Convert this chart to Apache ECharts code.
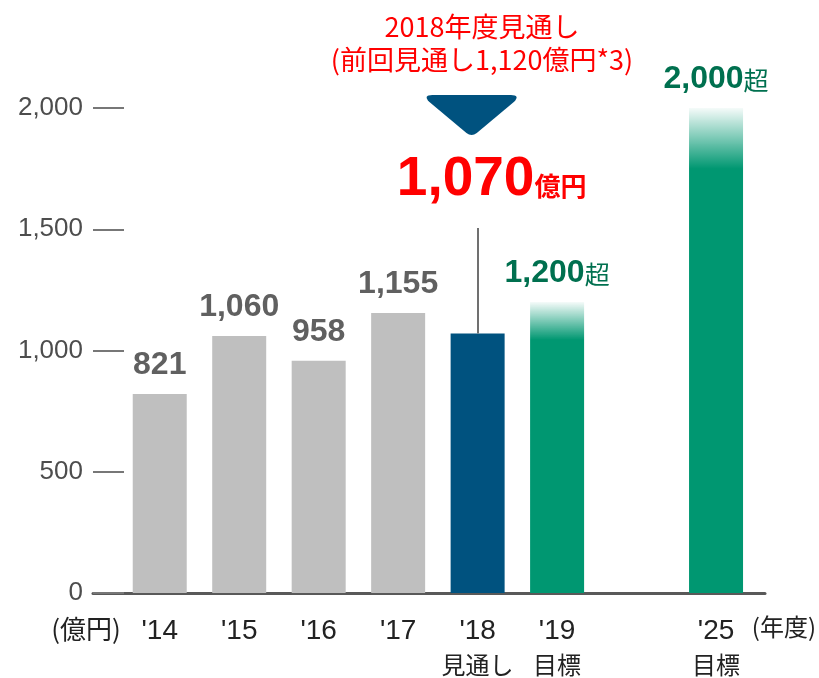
<!DOCTYPE html>
<html>
<head>
<meta charset="utf-8">
<script src="https://cdn.jsdelivr.net/npm/echarts@6/dist/echarts.min.js"></script>
<style>
  html, body { margin: 0; padding: 0; background: #fff; }
  #chart { width: 819px; height: 678px; }
</style>
</head>
<body>
<div id="chart"></div>
<script>
// data
const categories = ["'14", "'15", "'16", "'17", "'18", "'19", "", "'25"];
const subLabels = ["", "", "", "", "見通し", "目標", "", "目標"];
const values = [821, 1060, 958, 1155, 1070, 1200, null, 2000];
const valueTexts = ["821", "1,060", "958", "1,155", "", "1,200", "", "2,000"];
const valueSuffix = ["", "", "", "", "", "超", "", "超"];
const barKinds = ["actual", "actual", "actual", "actual", "forecast", "target", "", "target"];
const yTicks = [0, 500, 1000, 1500, 2000];

const forecastNote = ["2018年度見通し", "(前回見通し1,120億円*3)"];
const forecastCat = "'18";
const forecastValue = 1070;
const forecastText = "1,070";
const forecastUnit = "億円";
const leaderTop = 1505;   // top end of the grey leader line
const arrowAt = 1971;     // position of the down arrow
const bigLabelAt = 1711;  // position of the big red number

const NARROW = "'Liberation Sans Narrow', 'Arial Narrow', 'Liberation Sans', sans-serif";
const CJK = "'Noto Sans CJK JP', sans-serif";
const GREEN = '#009771';
const DARK_GREEN = '#00704f';

var chart = echarts.init(document.getElementById('chart'));

function fade(stop) {
  return new echarts.graphic.LinearGradient(0, 0, 0, 1, [
    { offset: 0, color: 'rgba(0,151,113,0.04)' },
    { offset: stop, color: GREEN },
    { offset: 1, color: GREEN }
  ]);
}

var barData = values.map(function (v, i) {
  if (v == null) return '-';
  var kind = barKinds[i];
  var item = { value: v, itemStyle: {}, label: { show: false } };
  if (kind === 'actual') {
    item.itemStyle.color = '#bfbfbf';
    item.label = {
      show: true, position: 'top', distance: 13,
      formatter: valueTexts[i],
      fontFamily: NARROW, fontWeight: 'bold', fontSize: 32, color: '#606060'
    };
  } else if (kind === 'forecast') {
    item.itemStyle.color = '#00527f';
  } else {
    item.itemStyle.color = fade(v > 1500 ? 0.125 : 0.13);
    item.label = {
      show: true, position: 'top', distance: 13,
      formatter: '{n|' + valueTexts[i] + '}{s|' + valueSuffix[i] + '}',
      rich: {
        n: { fontFamily: NARROW, fontWeight: 'bold', fontSize: 32, color: DARK_GREEN },
        s: { fontFamily: CJK, fontSize: 25, color: DARK_GREEN, padding: [3, 0, 0, 0] }
      }
    };
  }
  return item;
});

var option = {
  animation: false,
  title: {
    text: forecastNote.join('\n'),
    left: 477, top: 5, textAlign: 'center',
    textStyle: { fontFamily: CJK, fontWeight: 'normal', fontSize: 27, color: '#ff0000', lineHeight: 33 }
  },
  grid: [
    { left: 120, right: 60, top: 108, bottom: 85 },
    { left: 93, right: 54, top: 108, bottom: 85 }
  ],
  xAxis: [
    {
      type: 'category', gridIndex: 0, data: categories,
      axisLine: { show: false }, axisTick: { show: false },
      axisLabel: {
        margin: 21, interval: 0,
        formatter: function (val, idx) {
          return subLabels[idx] ? '{a|' + val + '}\n{b|' + subLabels[idx] + '}' : '{a|' + val + '}';
        },
        rich: {
          a: { fontFamily: NARROW, fontSize: 28, color: '#222', lineHeight: 34 },
          b: { fontFamily: CJK, fontSize: 24, color: '#222', lineHeight: 34 }
        }
      },
      name: '(年度)', nameLocation: 'end', nameGap: -4,
      nameTextStyle: { fontFamily: CJK, fontSize: 24, color: '#222', verticalAlign: 'top', align: 'left', padding: [22, 0, 0, 0] }
    },
    {
      type: 'value', gridIndex: 1, min: 0, max: 1,
      axisLine: { show: true, onZero: false, lineStyle: { color: '#595959', width: 3 } },
      axisTick: { show: false }, axisLabel: { show: false }, splitLine: { show: false }
    }
  ],
  yAxis: [
    { type: 'value', gridIndex: 0, min: 0, max: 2000, show: false },
    {
      type: 'value', gridIndex: 1, min: 0, max: 2000, interval: 500,
      axisLine: { show: false },
      axisTick: { show: true, inside: true, length: 31, lineStyle: { color: '#777', width: 2 } },
      splitLine: { show: false },
      axisLabel: {
        margin: 10, fontFamily: NARROW, fontSize: 26, color: '#4d4d4d',
        formatter: function (v) { return yTicks.indexOf(v) >= 0 ? v.toLocaleString('en-US') : ''; }
      },
      name: '(億円)', nameLocation: 'start', nameGap: 23,
      nameTextStyle: { fontFamily: CJK, fontSize: 26, color: '#222', align: 'center', verticalAlign: 'top', padding: [0, 14, 0, 0] }
    }
  ],
  series: [
    {
      type: 'bar', xAxisIndex: 0, yAxisIndex: 0,
      barWidth: 54, data: barData,
      markLine: {
        silent: true, symbol: 'none', label: { show: false },
        lineStyle: { color: '#707070', width: 2, type: 'solid' },
        data: [[{ coord: [forecastCat, forecastValue] }, { coord: [forecastCat, leaderTop] }]]
      },
      markPoint: {
        silent: true,
        data: [
          {
            coord: [forecastCat, arrowAt],
            symbol: 'path://M7,0 L83,0 Q92,0 86,7 L50,39 Q45,43 40,39 L4,7 Q-2,0 7,0 Z',
            symbolSize: [90, 40], symbolOffset: [-6, 0],
            itemStyle: { color: '#00527f' }, label: { show: false }
          },
          {
            coord: [forecastCat, bigLabelAt],
            symbol: 'circle', symbolSize: 1, itemStyle: { color: 'rgba(0,0,0,0)' },
            label: {
              show: true, position: 'inside', offset: [14, 2],
              formatter: '{n|' + forecastText + '}{u|' + forecastUnit + '}',
              rich: {
                n: { fontFamily: NARROW, fontWeight: 'bold', fontSize: 55, color: '#ff0000' },
                u: { fontFamily: CJK, fontWeight: 'bold', fontSize: 26, color: '#ff0000', padding: [12, 0, 0, 0] }
              }
            }
          }
        ]
      }
    }
  ]
};

chart.setOption(option);
</script>
</body>
</html>
